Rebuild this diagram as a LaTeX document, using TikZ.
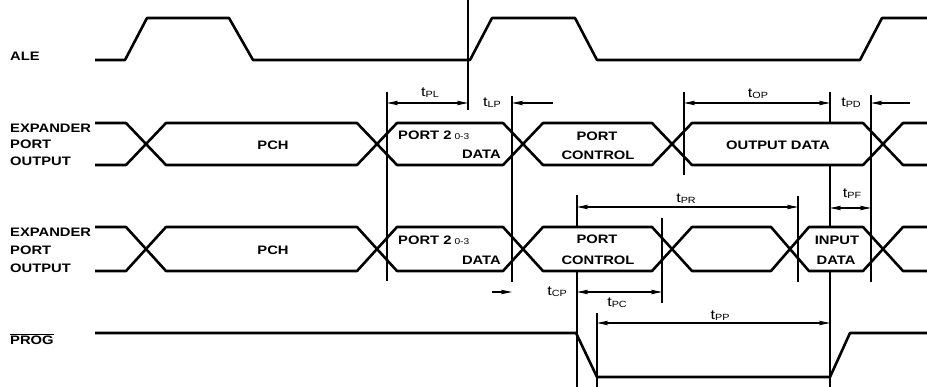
\documentclass[tikz,border=0pt]{standalone}
\usepackage{fontspec}
\setmainfont{Liberation Sans}
\newfontfamily\lblfont[FakeStretch=1.2]{Liberation Sans}
\usetikzlibrary{arrows.meta}
\newcommand{\tlab}[1]{{\fontsize{13.5}{13.5}\selectfont t}\raisebox{-1pt}{\fontsize{9}{9}\selectfont #1}}
\newcommand{\subnum}[1]{\hspace{3pt}{\mdseries\fontsize{8.5}{8.5}\selectfont #1}}
\begin{document}
\begin{tikzpicture}[x=1pt,y=-1pt,
  sig/.style={line width=2.6pt, line join=round},
  guide/.style={line width=1.1pt},
  tip/.tip={Stealth[length=11pt,width=4.5pt,inset=2pt]},
  dim/.style={line width=1.1pt, tip-tip},
  ptr/.style={line width=1.1pt, -tip},
  lbl/.style={font=\lblfont\bfseries\fontsize{12.3}{12.3}\selectfont, inner sep=0pt},
  tl/.style={font=\lblfont, inner sep=0pt, anchor=base}]
\useasboundingbox (0,0) rectangle (927,387);
\fill[white] (0,0) rectangle (927,387);

% left labels
\node[lbl, anchor=base west] (ale) at (10,61) {ALE};
\node[lbl, anchor=base west] (exa) at (10,133) {EXPANDER};
\node[lbl, anchor=base west] (exb) at (10,149) {PORT};
\node[lbl, anchor=base west] (exc) at (10,166) {OUTPUT};
\node[lbl, anchor=base west] (eya) at (10,237) {EXPANDER};
\node[lbl, anchor=base west] (eyb) at (10,255) {PORT};
\node[lbl, anchor=base west] (eyc) at (10,273) {OUTPUT};
\node[lbl, anchor=base west] (prog) at (10,345) {PROG};
\draw[line width=0.8pt] ([yshift=2.2pt]prog.north west) -- ([yshift=2.2pt]prog.north east);

% ALE
\draw[sig] (95,60) -- (125,60) -- (147,18) -- (229,18) -- (253,60) -- (470,60) -- (492,18) -- (575,18) -- (597,60) -- (860,60) -- (882,18) -- (927,18);

% row 2 bus
\draw[sig] (95,123) -- (126,123) -- (166,165) -- (357,165) -- (397,123) -- (503,123) -- (543,165) -- (652,165) -- (692,123) -- (863,123) -- (903,165) -- (927,165);
\draw[sig] (95,165) -- (126,165) -- (166,123) -- (357,123) -- (397,165) -- (503,165) -- (543,123) -- (652,123) -- (692,165) -- (863,165) -- (903,123) -- (927,123);

% row 3 bus
\draw[sig] (95,227) -- (126,227) -- (166,271) -- (357,271) -- (397,227) -- (503,227) -- (543,271) -- (652,271) -- (692,227) -- (771,227) -- (809,271) -- (863,271) -- (903,227) -- (927,227);
\draw[sig] (95,271) -- (126,271) -- (166,227) -- (357,227) -- (397,271) -- (503,271) -- (543,227) -- (652,227) -- (692,271) -- (771,271) -- (809,227) -- (863,227) -- (903,271) -- (927,271);

% PROG
\draw[sig] (95,333) -- (576,333) -- (597,377) -- (830,377) -- (850,333) -- (927,333);

% bus texts
\node[lbl] (pch1) at (273,145) {PCH};
\node[lbl, anchor=base west] (p2a) at (398,140) {PORT 2\subnum{0-3}};
\node[lbl, anchor=base east] (d2a) at (501,159) {DATA};
\node[lbl, anchor=base] (pca) at (597,141) {PORT};
\node[lbl, anchor=base] (cca) at (598,160) {CONTROL};
\node[lbl, anchor=base] (oda) at (778,150) {OUTPUT DATA};
\node[lbl, anchor=base] (pch2) at (273,255) {PCH};
\node[lbl, anchor=base west] (p2b) at (398,245) {PORT 2\subnum{0-3}};
\node[lbl, anchor=base east] (d2b) at (501,265) {DATA};
\node[lbl, anchor=base] (pcb) at (597,244) {PORT};
\node[lbl, anchor=base] (ccb) at (598,265) {CONTROL};
\node[lbl, anchor=base] (idb) at (837,245) {INPUT};
\node[lbl, anchor=base] (ddb) at (836,265) {DATA};

% guide lines
\draw[guide] (468,0) -- (468,110);
\draw[guide] (387,92) -- (387,281);
\draw[guide] (512,96) -- (512,282);
\draw[guide] (684,92) -- (684,175);
\draw[guide] (830,92) -- (830,123) (830,165) -- (830,227) (830,271) -- (830,387);
\draw[guide] (871,95) -- (871,282);
\draw[guide] (577,195) -- (577,227) (577,271) -- (577,387);
\draw[guide] (798,196) -- (798,282);
\draw[guide] (662,218) -- (662,303);
\draw[guide] (597,313) -- (597,387);

% dimension points
\coordinate (pl1) at (387,103); \coordinate (pl2) at (468,103);
\coordinate (lpT) at (512,103); \coordinate (lpS) at (553,103);
\coordinate (op1) at (684,103); \coordinate (op2) at (830,103);
\coordinate (pdT) at (871,103); \coordinate (pdS) at (910,103);
\coordinate (pr1) at (577,207); \coordinate (pr2) at (798,207);
\coordinate (pf1) at (830,208); \coordinate (pf2) at (871,208);
\coordinate (cpS) at (492,292); \coordinate (cpT) at (512,292);
\coordinate (pc1) at (577,292); \coordinate (pc2) at (662,292);
\coordinate (pp1) at (597,323); \coordinate (pp2) at (830,323);

\draw[dim] (pl1) -- (pl2);
\draw[ptr] (lpS) -- (lpT);
\draw[dim] (op1) -- (op2);
\draw[ptr] (pdS) -- (pdT);
\draw[dim] (pr1) -- (pr2);
\draw[dim] (pf1) -- (pf2);
\draw[ptr] (cpS) -- (cpT);
\draw[dim] (pc1) -- (pc2);
\draw[dim] (pp1) -- (pp2);

% timing labels
\node[tl] (tpl) at (430,97) {\tlab{PL}};
\node[tl] (tlp) at (492,107) {\tlab{LP}};
\node[tl] (top) at (758,98) {\tlab{OP}};
\node[tl] (tpd) at (851,107) {\tlab{PD}};
\node[tl] (tpr) at (686,203) {\tlab{PR}};
\node[tl] (tpf) at (852,198) {\tlab{PF}};
\node[tl] (tcp) at (557,296) {\tlab{CP}};
\node[tl] (tpc) at (617,307) {\tlab{PC}};
\node[tl] (tpp) at (720,320) {\tlab{PP}};
\end{tikzpicture}
\end{document}
